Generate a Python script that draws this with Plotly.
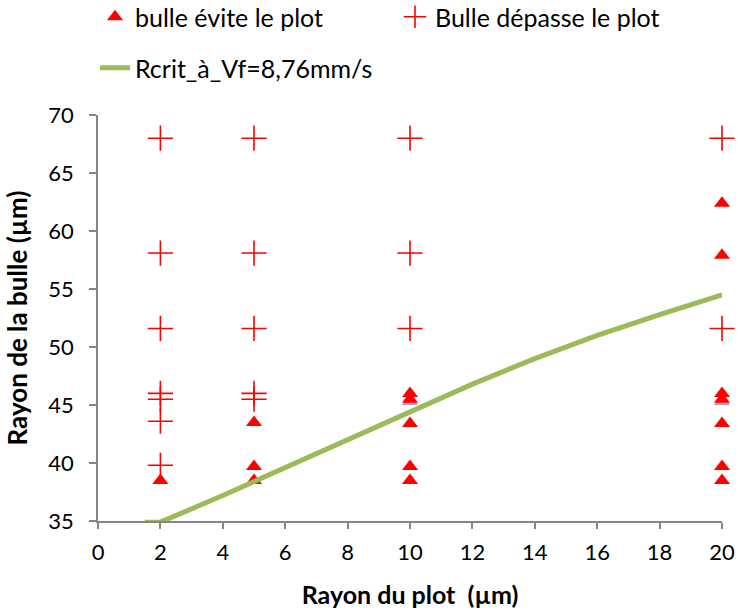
import plotly.graph_objects as go

# Data
evite_x = [2, 5, 5, 5, 10, 10, 10, 10, 10, 20, 20, 20, 20, 20, 20, 20]
evite_y = [38.5, 43.5, 39.7, 38.5, 46.0, 45.5, 43.4, 39.7, 38.5, 62.4, 57.9, 46.0, 45.5, 43.4, 39.7, 38.5]

gris_x = [10, 20]
gris_y = [45.3, 45.3]

depasse_x = [2, 2, 2, 2, 2, 2, 2, 5, 5, 5, 5, 5, 10, 10, 10, 20, 20]
depasse_y = [68.0, 58.1, 51.6, 46.0, 45.5, 43.6, 39.8, 68.0, 58.1, 51.6, 46.0, 45.5, 68.0, 58.1, 51.6, 68.0, 51.6]

rcrit_x = [1.5, 2, 4, 6, 8, 10, 12, 14, 16, 18, 20]
rcrit_y = [34.9, 34.9, 37.2, 39.6, 42.1, 44.4, 46.8, 49.0, 51.0, 52.8, 54.5]

x_ticks = [0, 2, 4, 6, 8, 10, 12, 14, 16, 18, 20]
y_ticks = [35, 40, 45, 50, 55, 60, 65, 70]

FONT = "Lato"
TICK = 22
LEG = 25

# body margin is removed by the post script, figure fills the window
W, H = 738, 613

fig = go.Figure()
fig.add_trace(go.Scatter(
    x=gris_x, y=gris_y, mode="markers", showlegend=False,
    marker=dict(symbol="triangle-up", size=14, color="#a49fc4"),
    cliponaxis=False,
))
fig.add_trace(go.Scatter(
    x=evite_x, y=evite_y, mode="markers", name="bulle évite le plot",
    marker=dict(symbol="triangle-up", size=14, color="#ff0000"),
    cliponaxis=False, legend="legend",
))
fig.add_trace(go.Scatter(
    x=depasse_x, y=depasse_y, mode="markers", name="Bulle dépasse le plot",
    marker=dict(symbol="cross-thin", size=18, color="#ff0000",
                line=dict(color="#ff0000", width=1.6)),
    cliponaxis=False, legend="legend2",
))
fig.add_trace(go.Scatter(
    x=rcrit_x, y=rcrit_y, mode="lines", name="Rcrit_à_Vf=8,76mm/s",
    line=dict(color="#9bbb59", width=5), legend="legend3",
))

def leg(px, py):
    return dict(
        orientation="h", xref="container", yref="container",
        x=px / W, y=1 - py / H,
        xanchor="left", yanchor="middle",
        font=dict(family=FONT, size=LEG, color="#000000"),
        bgcolor="rgba(0,0,0,0)", itemsizing="trace",
    )

fig.update_layout(
    width=W, height=H,
    paper_bgcolor="white", plot_bgcolor="white",
    margin=dict(l=98, r=16, t=115, b=92),
    font=dict(family=FONT, size=TICK, color="#000000"),
    legend=leg(95, 17),
    legend2=leg(395, 17),
    legend3=leg(95, 68),
    xaxis=dict(
        range=[0, 20], tickvals=x_ticks, ticktext=[str(v) for v in x_ticks],
        showgrid=False, zeroline=False, automargin=False,
        showline=True, linecolor="#868686", linewidth=1.5,
        ticks="outside", ticklen=6, tickcolor="#868686", tickwidth=1.5,
        ticklabelstandoff=5, ticklabeloverflow="allow",
        tickfont=dict(family=FONT, size=TICK),
        title=dict(text="<b>Rayon du plot  (µm)</b>", font=dict(family=FONT, size=25), standoff=22),
    ),
    yaxis=dict(
        range=[35, 70], tickvals=y_ticks, ticktext=[str(v) for v in y_ticks],
        showgrid=False, zeroline=False, automargin=False,
        showline=True, linecolor="#868686", linewidth=1.5,
        ticks="outside", ticklen=7, tickcolor="#868686", tickwidth=1.5,
        ticklabelstandoff=11, ticklabeloverflow="allow",
        tickfont=dict(family=FONT, size=TICK),
        title=dict(text="<b>Rayon de la bulle (µm)</b>", font=dict(family=FONT, size=26), standoff=13),
    ),
)

fig.write_html(
    "out.html",
    config={"displayModeBar": False},
    post_script="document.body.style.margin='0';document.documentElement.style.overflow='hidden';document.body.style.overflow='hidden';",
)
